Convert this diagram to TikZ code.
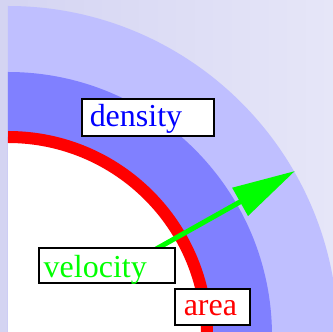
\documentclass[tikz,border=0pt]{standalone}
\usepackage{fontspec}
\setmainfont{Liberation Serif}
\usetikzlibrary{arrows.meta, calc}
\definecolor{BgDark}{RGB}{212, 212, 242}
\definecolor{BgLight}{RGB}{230, 230, 248}
\definecolor{OuterBlue}{RGB}{191, 191, 255}
\definecolor{MidBlue}{RGB}{128, 128, 255}

\begin{document}
\begin{tikzpicture}[
    x=1pt, y=1pt,
    quantity/.style={draw=black, fill=white, line width=1.5pt, inner xsep=#1, inner ysep=0pt, align=left, anchor=base west, font=\fontsize{32}{32}\selectfont},
    vecarrow/.style={draw=green, line width=5pt, -{Triangle[length=63pt, width=31pt]}}
]
    \useasboundingbox (0,0) rectangle (333,332);
    \clip (0,0) rectangle (333,332);

    % Background
    \shade[left color=BgDark, right color=BgLight] (0,0) rectangle (333,332);

    % Quarter discs
    \coordinate (centre) at (8,-4);
    \fill[OuterBlue] (centre) -- ++(330,0) arc[start angle=0, end angle=90, radius=330] -- cycle;
    \fill[MidBlue] (centre) -- ++(264,0) arc[start angle=0, end angle=90, radius=264] -- cycle;
    \fill[white] (centre) -- ++(199,0) arc[start angle=0, end angle=90, radius=199] -- cycle;
    \draw[red, line width=12pt] ($(centre)+(199,0)$) arc[start angle=0, end angle=90, radius=199];

    % Velocity vector
    \coordinate (vstart) at (148,78.4);
    \coordinate (vtip) at (295,161);
    \draw[vecarrow] (vstart) -- (vtip);

    % Labels
    \node (density) [quantity=8pt, text width=116pt, text height=28pt, text depth=9pt, text=blue] at (81,205) {density};
    \node (velocity) [quantity=5pt, text width=126pt, text height=29.5pt, text depth=5.5pt, text=green] at (38,54.5) {velocity};
    \node (area) [quantity=9pt, text width=57pt, text height=27pt, text depth=9pt, text=red] at (174,16) {area};

\end{tikzpicture}
\end{document}
